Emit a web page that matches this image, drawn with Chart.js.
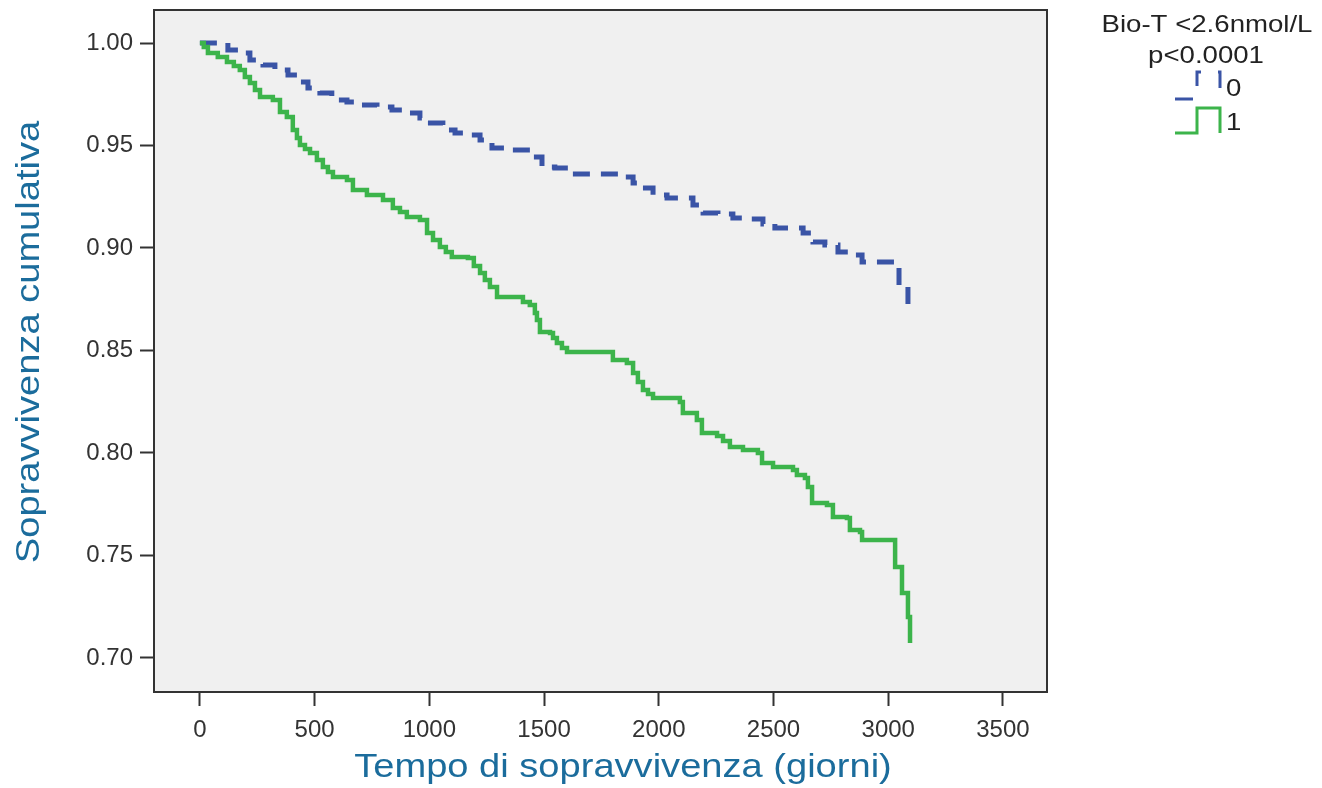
<!DOCTYPE html>
<html>
<head>
<meta charset="utf-8">
<script src="https://cdn.jsdelivr.net/npm/chart.js@4.4.1/dist/chart.umd.min.js"></script>
<style>
  html, body { margin: 0; padding: 0; background: #fff; overflow: hidden; }
  canvas { display: block; }
</style>
</head>
<body>
<canvas id="km" width="1322" height="788"></canvas>
<script>
// Bio-T < 2.6 nmol/L = 0 (dashed blue)
const group0Days = [0, 122, 166, 218, 275, 327, 384, 423, 471, 523, 575, 641, 697, 772, 837, 894, 959, 990,
  1059, 1112, 1177, 1221, 1273, 1338, 1447, 1491, 1547, 1604, 1822, 1888, 1918, 1975, 2036, 2149, 2193,
  2258, 2323, 2389, 2454, 2506, 2629, 2672, 2724, 2781, 2833, 2886, 3047, 3086, 3095];
const group0Surv = [1.0, 0.9966, 0.9951, 0.9917, 0.9893, 0.9868, 0.9844, 0.9810, 0.9780, 0.9756, 0.9722,
  0.9712, 0.9698, 0.9688, 0.9673, 0.9659, 0.9634, 0.9610, 0.9576, 0.9561, 0.9551, 0.9527, 0.9488, 0.9478,
  0.9444, 0.9395, 0.9390, 0.9361, 0.9346, 0.9317, 0.9293, 0.9259, 0.9244, 0.9210, 0.9171, 0.9166, 0.9146,
  0.9141, 0.9117, 0.9098, 0.9073, 0.9029, 0.9015, 0.8980, 0.8966, 0.8932, 0.8820, 0.8688, 0.8688];

// Bio-T < 2.6 nmol/L = 1 (green)
const group1Days = [0, 17, 35, 78, 118, 148, 174, 196, 218, 240, 262, 318, 349, 379, 405, 423, 436, 458, 480,
  510, 536, 558, 580, 641, 667, 728, 798, 841, 872, 902, 959, 990, 1016, 1046, 1072, 1098, 1168, 1194, 1221,
  1242, 1264, 1295, 1408, 1438, 1460, 1469, 1482, 1526, 1539, 1556, 1578, 1600, 1800, 1861, 1888, 1909, 1931,
  1953, 1975, 2092, 2105, 2166, 2188, 2254, 2280, 2310, 2367, 2432, 2450, 2498, 2585, 2602, 2637, 2650, 2668,
  2733, 2759, 2820, 2833, 2877, 2886, 3030, 3060, 3086, 3095];
const group1Surv = [1.0, 0.9980, 0.9951, 0.9932, 0.9907, 0.9888, 0.9868, 0.9834, 0.9805, 0.9771, 0.9737,
  0.9722, 0.9663, 0.9639, 0.9576, 0.9537, 0.9502, 0.9483, 0.9463, 0.9429, 0.9395, 0.9371, 0.9346, 0.9332,
  0.9283, 0.9259, 0.9234, 0.9195, 0.9176, 0.9151, 0.9137, 0.9073, 0.9039, 0.9005, 0.8980, 0.8956, 0.8951,
  0.8912, 0.8878, 0.8844, 0.8810, 0.8761, 0.8737, 0.8722, 0.8683, 0.8649, 0.8590, 0.8585, 0.8561, 0.8537,
  0.8512, 0.8493, 0.8454, 0.8439, 0.8390, 0.8346, 0.8307, 0.8288, 0.8268, 0.8249, 0.8195, 0.8161, 0.8098,
  0.8083, 0.8059, 0.8029, 0.8015, 0.8000, 0.7951, 0.7932, 0.7917, 0.7893, 0.7878, 0.7834, 0.7756, 0.7746,
  0.7688, 0.7683, 0.7624, 0.7615, 0.7576, 0.7444, 0.7317, 0.7200, 0.7073];

const xTicks = [0, 500, 1000, 1500, 2000, 2500, 3000, 3500];
const yTicks = [0.70, 0.75, 0.80, 0.85, 0.90, 0.95, 1.00];

const xTitle = 'Tempo di sopravvivenza (giorni)';
const yTitle = 'Sopravvivenza cumulativa';
const legendTitle = ['Bio-T <2.6nmol/L', 'p<0.0001'];
const groupNames = ['0', '1'];

const blue = '#3a54a6';
const green = '#3cb44b';
const titleColor = '#1b6c9c';
const inkColor = '#333333';

function points(days, surv) {
  return days.map((d, i) => ({ x: d, y: surv[i] }));
}

// testo allargato in orizzontale come nell'export SPSS
function wideText(ctx, text, x, y, sx, align) {
  ctx.save();
  ctx.translate(x, y);
  ctx.scale(sx, 1);
  ctx.textAlign = align;
  ctx.fillText(text, 0, 0);
  ctx.restore();
}

const frame = {
  id: 'frame',
  beforeDraw(chart) {
    const { ctx, chartArea: a } = chart;
    ctx.save();
    ctx.fillStyle = '#f0f0f0';
    ctx.fillRect(a.left, a.top, a.right - a.left, a.bottom - a.top);
    ctx.restore();
  },
  afterDraw(chart) {
    const { ctx, chartArea: a } = chart;
    ctx.save();
    ctx.strokeStyle = inkColor;
    ctx.lineWidth = 2;
    ctx.strokeRect(a.left, a.top, a.right - a.left, a.bottom - a.top);

    // titoli degli assi
    ctx.fillStyle = titleColor;
    ctx.font = '34px "Liberation Sans", Arial, sans-serif';
    ctx.textBaseline = 'alphabetic';
    wideText(ctx, xTitle, 623, 777, 1.12, 'center');
    ctx.save();
    ctx.translate(39, 342);
    ctx.rotate(-Math.PI / 2);
    wideText(ctx, yTitle, 0, 0, 1.12, 'center');
    ctx.restore();

    // legenda
    ctx.fillStyle = '#222';
    ctx.font = '24px "Liberation Sans", Arial, sans-serif';
    wideText(ctx, legendTitle[0], 1207, 32, 1.15, 'center');
    wideText(ctx, legendTitle[1], 1206, 63, 1.15, 'center');

    const rows = [{ base: 99, top: 72, color: blue, dash: [18, 17], lw: 3 },
                  { base: 133, top: 108, color: green, dash: [], lw: 3 }];
    rows.forEach((r, i) => {
      ctx.beginPath();
      ctx.setLineDash(r.dash);
      ctx.strokeStyle = r.color;
      ctx.lineWidth = r.lw;
      ctx.moveTo(1175, r.base);
      ctx.lineTo(1197, r.base);
      ctx.lineTo(1197, r.top);
      ctx.lineTo(1220, r.top);
      ctx.lineTo(1220, r.base);
      ctx.stroke();
      ctx.setLineDash([]);
      wideText(ctx, groupNames[i], 1226, r.base - 3, 1.15, 'left');
    });
    ctx.restore();
  }
};

new Chart(document.getElementById('km'), {
  type: 'line',
  data: {
    datasets: [{
      label: groupNames[0],
      data: points(group0Days, group0Surv),
      borderColor: blue,
      borderWidth: 5,
      borderDash: [17, 11],
      stepped: 'before',
      pointRadius: 0,
      fill: false,
      order: 1
    }, {
      label: groupNames[1],
      data: points(group1Days, group1Surv),
      borderColor: green,
      borderWidth: 4.5,
      stepped: 'before',
      pointRadius: 0,
      fill: false,
      order: 0
    }]
  },
  options: {
    responsive: false,
    animation: false,
    events: [],
    layout: { padding: { top: 10, right: 275, bottom: 0, left: 0 } },
    plugins: { legend: { display: false }, tooltip: { enabled: false } },
    scales: {
      x: {
        type: 'linear',
        min: -200,
        max: 3692,
        afterBuildTicks: s => { s.ticks = xTicks.map(v => ({ value: v })); },
        afterFit: s => { s.height = 96; s.paddingLeft = 0; s.paddingRight = 0; },
        grid: { drawOnChartArea: false, tickLength: 14, tickWidth: 2, tickColor: inkColor },
        border: { color: inkColor, width: 2 },
        ticks: {
          padding: 10,
          color: inkColor,
          maxRotation: 0,
          autoSkip: false,
          font: { family: '"Liberation Sans", Arial, sans-serif', size: 24 },
          callback: v => String(v)
        }
      },
      y: {
        type: 'linear',
        min: 0.6834,
        max: 1.0161,
        afterBuildTicks: s => { s.ticks = yTicks.map(v => ({ value: v })); },
        afterFit: s => { s.width = 154; s.paddingTop = 0; s.paddingBottom = 0; },
        grid: { drawOnChartArea: false, tickLength: 14, tickWidth: 2, tickColor: inkColor },
        border: { color: inkColor, width: 2 },
        ticks: {
          padding: 7,
          color: inkColor,
          autoSkip: false,
          font: { family: '"Liberation Sans", Arial, sans-serif', size: 24 },
          callback: v => v.toFixed(2)
        }
      }
    }
  },
  plugins: [frame]
});
</script>
</body>
</html>
